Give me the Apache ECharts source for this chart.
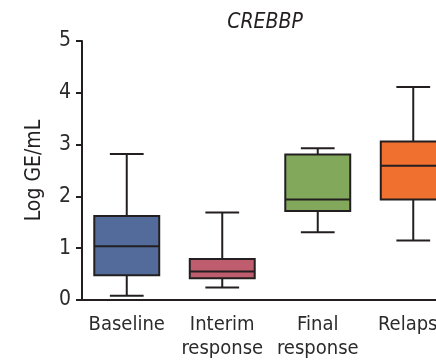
<!DOCTYPE html>
<html>
<head>
<meta charset="utf-8">
<script src="https://cdn.jsdelivr.net/npm/echarts@6/dist/echarts.min.js"></script>
<style>
  html, body { margin: 0; padding: 0; background: #fff; }
  #main { width: 436px; height: 361px; }
</style>
</head>
<body>
<div id="main"></div>
<script>
// box plot values (Log GE/mL)
var categories = ['Baseline', 'Interim\nresponse', 'Final\nresponse', 'Relapse'];
var lowWhisker = [0.08, 0.24, 1.31, 1.15];
var q1 = [0.48, 0.42, 1.72, 1.94];
var median = [1.04, 0.55, 1.94, 2.59];
var q3 = [1.62, 0.79, 2.81, 3.06];
var highWhisker = [2.82, 1.69, 2.93, 4.11];
var yTicks = [0, 1, 2, 3, 4, 5];

var boxColors = ['#536b9b', '#bf5c6e', '#82a85c', '#f07030'];
var font = "'DejaVu Sans Condensed', 'Liberation Sans', sans-serif";

var rows = [];
for (var i = 0; i < categories.length; i++) {
    rows.push([i, lowWhisker[i], q1[i], median[i], q3[i], highWhisker[i]]);
}

var chart = echarts.init(document.getElementById('main'));
var option = {
    animation: false,
    title: {
        text: 'CREBBP',
        left: 260,
        top: 7,
        textAlign: 'center',
        textStyle: {
            fontFamily: font,
            fontStyle: 'italic',
            fontWeight: 'normal',
            fontSize: 21,
            color: '#231f20'
        }
    },
    // the last box runs past the right edge, as in the source figure
    grid: { left: 79, width: 382, top: 41, bottom: 61, outerBoundsMode: 'none' },
    xAxis: {
        type: 'category',
        data: categories,
        axisLine: { lineStyle: { color: '#231f20', width: 2 } },
        axisTick: { alignWithLabel: true, length: 7, lineStyle: { color: '#231f20', width: 2 } },
        axisLabel: {
            fontFamily: font, fontSize: 20, color: '#2b2b2b',
            margin: 13, lineHeight: 24, interval: 0
        }
    },
    yAxis: {
        type: 'value',
        min: 0,
        max: 5,
        interval: 1,
        offset: -3,
        name: 'Log GE/mL',
        nameLocation: 'middle',
        nameGap: 37,
        nameTextStyle: { fontFamily: font, fontSize: 21, color: '#231f20' },
        splitLine: { show: false },
        axisLine: { show: true, lineStyle: { color: '#231f20', width: 2 } },
        axisTick: { show: true, length: 6, lineStyle: { color: '#231f20', width: 2 } },
        axisLabel: {
            fontFamily: font, fontSize: 21, color: '#2b2b2b', margin: 11,
            formatter: function (v) { return yTicks.indexOf(v) >= 0 ? String(v) : ''; }
        }
    },
    series: [{
        type: 'custom',
        data: rows,
        encode: { x: 0, y: [1, 2, 3, 4, 5] },
        renderItem: function (params, api) {
            var idx = api.value(0);
            var lo = api.coord([idx, api.value(1)]);
            var b1 = api.coord([idx, api.value(2)]);
            var md = api.coord([idx, api.value(3)]);
            var b3 = api.coord([idx, api.value(4)]);
            var hi = api.coord([idx, api.value(5)]);
            var band = api.size([1, 0])[0];
            var boxW = band * 0.68;
            var capW = boxW * 0.52;
            var cx = lo[0];
            var stroke = { stroke: '#231f20', lineWidth: 2 };
            return {
                type: 'group',
                children: [
                    { type: 'line', shape: { x1: cx, y1: hi[1], x2: cx, y2: b3[1] }, style: stroke },
                    { type: 'line', shape: { x1: cx, y1: b1[1], x2: cx, y2: lo[1] }, style: stroke },
                    { type: 'line', shape: { x1: cx - capW / 2, y1: hi[1], x2: cx + capW / 2, y2: hi[1] }, style: stroke },
                    { type: 'line', shape: { x1: cx - capW / 2, y1: lo[1], x2: cx + capW / 2, y2: lo[1] }, style: stroke },
                    {
                        type: 'rect',
                        shape: { x: cx - boxW / 2, y: b3[1], width: boxW, height: b1[1] - b3[1] },
                        style: { fill: boxColors[params.dataIndex], stroke: '#231f20', lineWidth: 2 }
                    },
                    { type: 'line', shape: { x1: cx - boxW / 2, y1: md[1], x2: cx + boxW / 2, y2: md[1] }, style: stroke }
                ]
            };
        }
    }]
};
chart.setOption(option);
window.onresize = function () {
    chart.resize();
};
</script>
</body>
</html>
